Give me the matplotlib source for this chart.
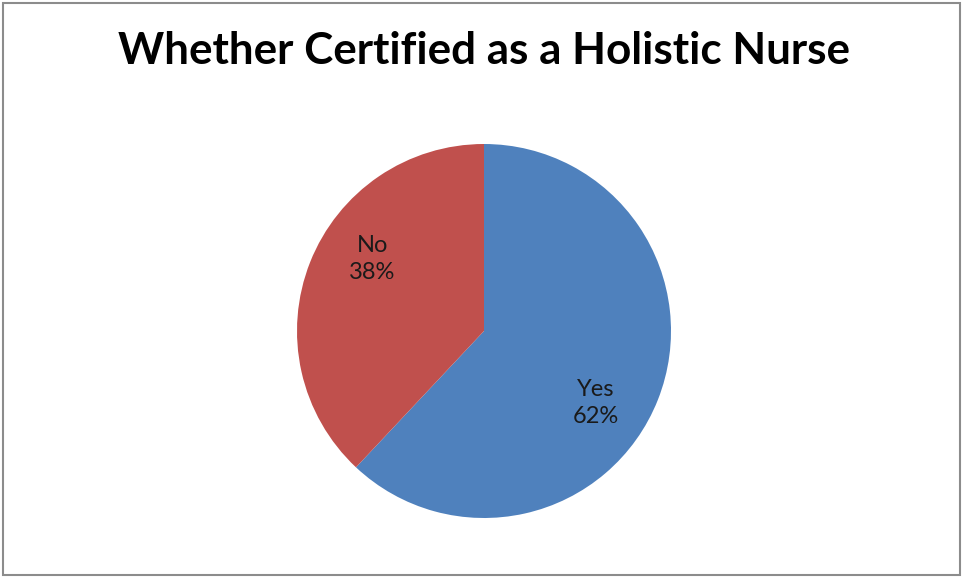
import numpy as np
import matplotlib.pyplot as plt
from matplotlib.patches import Rectangle

# Survey answers
categories = ["Yes", "No"]
shares = [62, 38]
colors = ["#4F81BD", "#C0504D"]
title = "Whether Certified as a Holistic Nurse"

fig = plt.figure(figsize=(9.63, 5.77), dpi=100)
fig.patch.set_facecolor("white")

# gray frame round the chart area
fig.patches.append(Rectangle((3 / 963, 2 / 577), 957 / 963, 572 / 577,
                             transform=fig.transFigure, fill=False,
                             edgecolor="#8c8c8c", linewidth=1.5))

fig.text(484 / 963, 1 - 51 / 577, title, ha="center", va="center",
         fontsize=31.7, fontweight="bold", family="Lato")

# pie area
cx, cy, r = 484, 331, 187
ax = fig.add_axes([(cx - r) / 963, (577 - cy - r) / 577, 2 * r / 963, 2 * r / 577])
wedges, _ = ax.pie(shares, colors=colors, startangle=90, counterclock=False,
                   wedgeprops=dict(linewidth=0))
ax.set_xlim(-1, 1)
ax.set_ylim(-1, 1)
ax.set_aspect("equal")
ax.axis("off")

# labels inside each slice, a bit clockwise of the slice middle
for w, cat, val in zip(wedges, categories, shares):
    mid = np.deg2rad((w.theta1 + w.theta2) / 2 - 11)
    ax.text(0.71 * np.cos(mid), 0.71 * np.sin(mid), f"{cat}\n{val}%",
            ha="center", va="center", fontsize=17, family="Lato",
            color="#1a1a1a", linespacing=1.35)

fig.savefig("out.png", dpi=100)
